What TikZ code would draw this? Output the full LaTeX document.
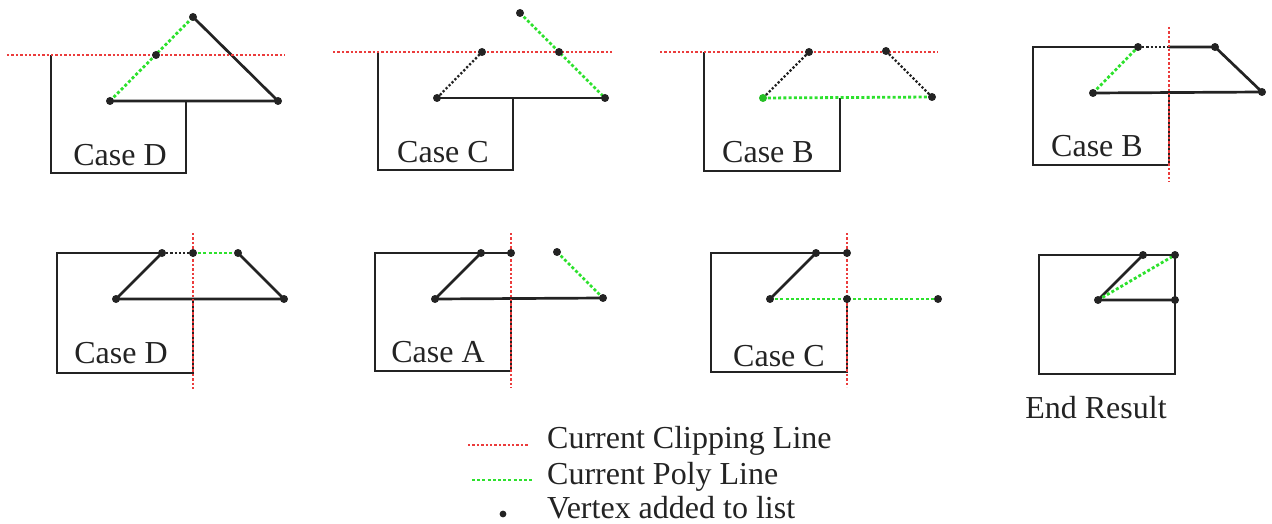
\documentclass[tikz,border=0pt]{standalone}
\usepackage{fontspec}
\setmainfont{Liberation Serif}
\definecolor{clipred}{RGB}{235,60,60}
\definecolor{polygreen}{RGB}{45,225,45}
\definecolor{edgeblack}{RGB}{35,35,35}
\begin{document}
\begin{tikzpicture}[x=1pt,y=-1pt,
  edge/.style={draw=edgeblack,line width=2.7pt,line join=miter},
  faint/.style={draw=edgeblack,line width=2.3pt,dash pattern=on 2.2pt off 2pt},
  clipline/.style={draw=clipred,line width=2.4pt,dash pattern=on 2.4pt off 2pt},
  polyline/.style={draw=polygreen,line width=2.8pt,dash pattern=on 3pt off 2.2pt},
  vtx/.style={fill=edgeblack,draw=none},
  greenvtx/.style={fill=polygreen!85!black,draw=none},
  lbl/.style={font=\fontsize{32}{38}\selectfont,text=edgeblack,inner sep=0pt,anchor=base},
  lgd/.style={font=\fontsize{32}{38}\selectfont,text=edgeblack,inner sep=0pt,anchor=base west}]
\useasboundingbox (0,0) rectangle (1272,524);

% ---------- top row, panel 1: Case D ----------
\coordinate (k1a) at (51,55);  \coordinate (k1b) at (51,173);
\coordinate (k1c) at (186,173); \coordinate (k1d) at (186,101);
\coordinate (t1) at (193,17);  \coordinate (i1) at (156,55);
\coordinate (l1) at (110,101); \coordinate (r1) at (278,101);
\coordinate (c1s) at (7,55);   \coordinate (c1e) at (285,55);
\draw[edge] (k1a) -- (k1b) -- (k1c) -- (k1d);
\draw[edge] (t1) -- (r1) -- (l1);
\draw[polyline] (l1) -- (t1);
\draw[clipline] (c1s) -- (c1e);
\foreach \p in {t1,i1,l1,r1} \fill[vtx] (\p) circle (4pt);
\node[lbl] (case1) at (120,166) {Case D};

% ---------- top row, panel 2: Case C ----------
\coordinate (k2a) at (378,52);  \coordinate (k2b) at (378,170);
\coordinate (k2c) at (513,170); \coordinate (k2d) at (513,98);
\coordinate (t2) at (520,13);   \coordinate (i2a) at (482,52);
\coordinate (i2b) at (559,52);  \coordinate (l2) at (437,98);
\coordinate (r2) at (605,98);
\coordinate (c2s) at (333,52);  \coordinate (c2e) at (612,52);
\draw[edge] (k2a) -- (k2b) -- (k2c) -- (k2d);
\draw[edge] (l2) -- (r2);
\draw[faint] (l2) -- (i2a);
\draw[polyline] (t2) -- (r2);
\draw[clipline] (c2s) -- (c2e);
\foreach \p in {t2,i2a,i2b,l2,r2} \fill[vtx] (\p) circle (4pt);
\node[lbl] (case2) at (443,163) {Case C};

% ---------- top row, panel 3: Case B ----------
\coordinate (k3a) at (704,52);  \coordinate (k3b) at (704,171);
\coordinate (k3c) at (840,171); \coordinate (k3d) at (840,98);
\coordinate (l3) at (763,98);   \coordinate (i3a) at (809,52);
\coordinate (i3b) at (886,51);  \coordinate (r3) at (932,97);
\coordinate (c3s) at (660,52);  \coordinate (c3e) at (938,52);
\draw[edge] (k3a) -- (k3b) -- (k3c) -- (k3d);
\draw[faint] (l3) -- (i3a);
\draw[faint] (i3b) -- (r3);
\draw[polyline] (r3) -- (l3);
\draw[clipline] (c3s) -- (c3e);
\foreach \p in {i3a,i3b,r3} \fill[vtx] (\p) circle (4pt);
\fill[greenvtx] (l3) circle (4pt);
\node[lbl] (case3) at (768,163) {Case B};

% ---------- top row, panel 4: Case B ----------
\coordinate (k4a) at (1033,47);  \coordinate (k4b) at (1033,165);
\coordinate (k4c) at (1169,165); \coordinate (k4d) at (1169,93);
\coordinate (a4) at (1138,47);   \coordinate (x4) at (1169,47);
\coordinate (b4) at (1215,47);   \coordinate (r4) at (1262,92);
\coordinate (l4) at (1093,93);
\coordinate (c4s) at (1169,27);  \coordinate (c4e) at (1169,182);
\draw[edge] (a4) -- (k4a) -- (k4b) -- (k4c) -- (k4d);
\draw[faint] (a4) -- (x4);
\draw[edge] (x4) -- (b4) -- (r4) -- (l4);
\draw[polyline] (l4) -- (a4);
\draw[clipline] (c4s) -- (c4e);
\foreach \p in {a4,b4,r4,l4} \fill[vtx] (\p) circle (4pt);
\node[lbl] (case4) at (1097,157) {Case B};

% ---------- bottom row, panel 5: Case D ----------
\coordinate (k5a) at (57,253);   \coordinate (k5b) at (57,373);
\coordinate (k5c) at (193,373);  \coordinate (k5d) at (193,299);
\coordinate (a5) at (162,253);   \coordinate (x5) at (193,253);
\coordinate (b5) at (238,253);   \coordinate (r5) at (284,299);
\coordinate (l5) at (116,299);
\coordinate (c5s) at (193,233);  \coordinate (c5e) at (193,390);
\draw[edge] (a5) -- (k5a) -- (k5b) -- (k5c) -- (k5d);
\draw[faint] (a5) -- (x5);
\draw[polyline] (x5) -- (b5);
\draw[edge] (b5) -- (r5) -- (l5) -- (a5);
\draw[clipline] (c5s) -- (c5e);
\foreach \p in {a5,x5,b5,r5,l5} \fill[vtx] (\p) circle (4pt);
\node[lbl] (case5) at (121,363) {Case D};

% ---------- bottom row, panel 6: Case A ----------
\coordinate (k6a) at (375,253);  \coordinate (k6b) at (375,371);
\coordinate (k6c) at (511,371);  \coordinate (k6d) at (511,299);
\coordinate (a6) at (481,253);   \coordinate (x6) at (511,253);
\coordinate (b6) at (557,252);   \coordinate (r6) at (603,298);
\coordinate (l6) at (435,299);
\coordinate (c6s) at (511,233);  \coordinate (c6e) at (511,388);
\draw[edge] (x6) -- (a6) -- (k6a) -- (k6b) -- (k6c) -- (k6d);
\draw[edge] (a6) -- (l6) -- (r6);
\draw[polyline] (b6) -- (r6);
\draw[clipline] (c6s) -- (c6e);
\foreach \p in {a6,x6,b6,r6,l6} \fill[vtx] (\p) circle (4pt);
\node[lbl] (case6) at (438,362) {Case A};

% ---------- bottom row, panel 7: Case C ----------
\coordinate (k7a) at (711,253);  \coordinate (k7b) at (711,372);
\coordinate (k7c) at (847,372);  \coordinate (k7d) at (847,299);
\coordinate (a7) at (816,253);   \coordinate (x7) at (847,253);
\coordinate (y7) at (847,299);   \coordinate (r7) at (938,299);
\coordinate (l7) at (770,299);
\coordinate (c7s) at (847,233);  \coordinate (c7e) at (847,387);
\draw[edge] (x7) -- (a7) -- (k7a) -- (k7b) -- (k7c) -- (k7d);
\draw[edge] (a7) -- (l7);
\draw[polyline] (l7) -- (r7);
\draw[clipline] (c7s) -- (c7e);
\foreach \p in {a7,x7,y7,r7,l7} \fill[vtx] (\p) circle (4pt);
\node[lbl] (case7) at (779,366) {Case C};

% ---------- bottom row, panel 8: End Result ----------
\coordinate (k8a) at (1039,255); \coordinate (k8b) at (1039,374);
\coordinate (k8c) at (1175,374);
\coordinate (a8) at (1143,255);  \coordinate (x8) at (1175,255);
\coordinate (y8) at (1175,300);  \coordinate (l8) at (1098,300);
\draw[edge] (x8) -- (k8a) -- (k8b) -- (k8c) -- cycle;
\draw[edge] (a8) -- (l8) -- (y8);
\draw[polyline] (l8) -- (x8);
\foreach \p in {a8,x8,y8,l8} \fill[vtx] (\p) circle (4pt);
\node[lbl] (case8) at (1096,418) {End Result};

% ---------- legend ----------
\coordinate (g1s) at (468,445); \coordinate (g1e) at (529,445);
\coordinate (g2s) at (472,480); \coordinate (g2e) at (532,480);
\coordinate (g3) at (503,514);
\draw[clipline] (g1s) -- (g1e);
\draw[polyline] (g2s) -- (g2e);
\fill[vtx] (g3) circle (3.4pt);
\node[lgd] (leg1) at (547,448) {Current Clipping Line};
\node[lgd] (leg2) at (547,484) {Current Poly Line};
\node[lgd] (leg3) at (547,518) {Vertex added to list};
\end{tikzpicture}
\end{document}
